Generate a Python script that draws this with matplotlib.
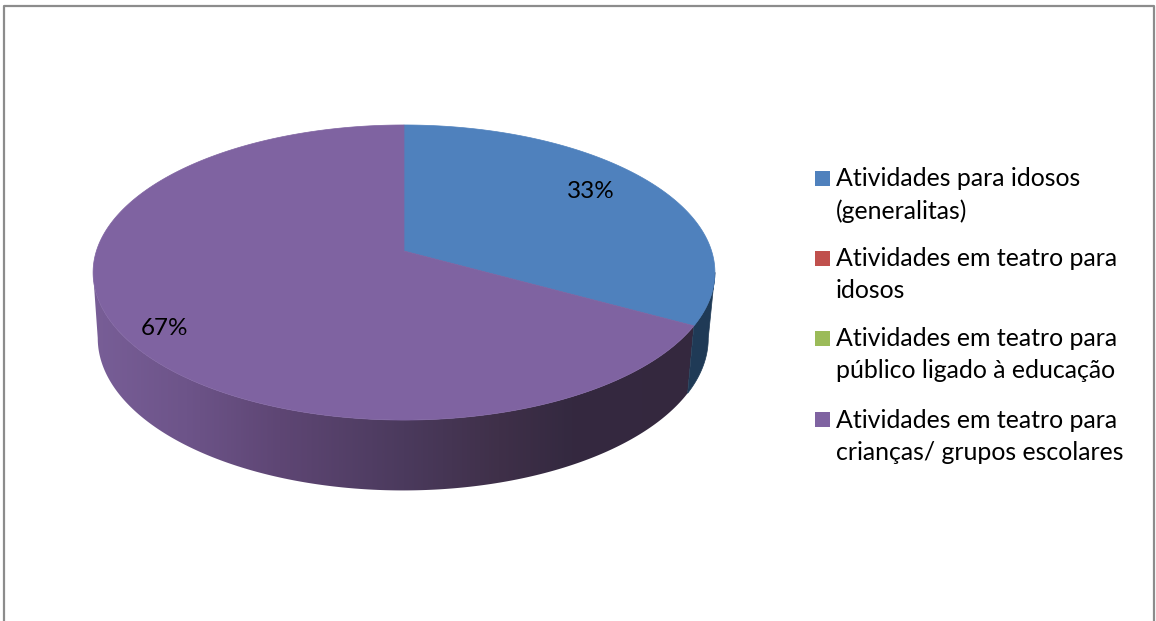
import numpy as np
import matplotlib
matplotlib.use('Agg')
import matplotlib.pyplot as plt
from matplotlib.colors import LinearSegmentedColormap
from matplotlib.patches import Polygon, Rectangle

labels = ['Atividades para idosos\n(generalitas)',
          'Atividades em teatro para\nidosos',
          'Atividades em teatro para\npúblico ligado à educação',
          'Atividades em teatro para\ncrianças/ grupos escolares']
values = [33, 0, 0, 67]
colors = ['#4f81bd', '#c0504d', '#9bbb59', '#7f63a1']
side_colors = ['#1f3a56', '#632523', '#4f6228', '#33283f']

plt.rcParams['font.family'] = ['Lato', 'DejaVu Sans']

fig = plt.figure(figsize=(11.56, 6.21), dpi=100)
ax = fig.add_axes([0, 0, 1, 1])
ax.set_xlim(0, 1156)
ax.set_ylim(621, 0)
ax.axis('off')

# chart border, no bottom edge in the crop
ax.plot([4, 4, 1154, 1154], [621, 6, 6, 621], color='#8c8c8c', lw=1.6)

K = -0.1458


def project(t, ax_, ay, sx, sy):
    # t is the angle clockwise from 12 o'clock, circle tilted with perspective
    x, y = np.sin(t), -np.cos(t)
    d = 1 + K * y
    return ax_ + sx * x / d, ay + sy * y / d


def top(t):
    return project(t, 404, 251, 307.6, 144.4)


def bottom(t):
    return project(t, 403, 316, 302.0, 149.0)


def band(t0, t1):
    t = np.linspace(t0, t1, 200)
    x0, y0 = top(t)
    x1, y1 = bottom(t)
    return np.r_[x0, x1[::-1]], np.r_[y0, y1[::-1]]


shares = np.array(values) / sum(values)
edges = np.r_[0, np.cumsum(shares)] * 2 * np.pi

tt = np.linspace(0, 2 * np.pi, 2000)
t_right = tt[np.argmax(top(tt)[0])]
t_left = 2 * np.pi - t_right

# side wall of the purple slice has a horizontal shade
shade = LinearSegmentedColormap.from_list('shade', [
    (0.00, '#785e97'), (0.15, '#6d5489'), (0.30, '#5e4674'), (0.50, '#4b3a5d'),
    (0.654, '#3f3049'), (0.77, '#342940'), (1.00, '#35283e')])
x_side, y_side = band(edges[3], t_left)
side = Polygon(np.c_[x_side, y_side], closed=True, fc='none', ec='none',
               transform=ax.transData)
ax.add_patch(side)
img = ax.imshow(np.linspace(0, 1, 512)[None, :], cmap=shade, aspect='auto',
                extent=[93, 715, 500, 200], zorder=1)
img.set_clip_path(side)

x_side, y_side = band(t_right, edges[1])
ax.add_patch(Polygon(np.c_[x_side, y_side], closed=True, fc=side_colors[0],
                     ec=side_colors[0], lw=0.5, zorder=1))

ax.set_xlim(0, 1156)
ax.set_ylim(621, 0)

# top face
for i, v in enumerate(values):
    if v == 0:
        continue
    t = np.linspace(edges[i], edges[i + 1], 400)
    x, y = top(t)
    pts = np.c_[np.r_[404, x], np.r_[251, y]]
    ax.add_patch(Polygon(pts, closed=True, fc=colors[i], ec=colors[i], lw=0.5,
                         zorder=2))

ax.text(591, 192, f'{values[0]}%', fontsize=17.5, ha='center', va='center',
        color='black', zorder=3)
ax.text(165, 328.5, f'{values[3]}%', fontsize=17.5, ha='center', va='center',
        color='black', zorder=3)

# legend
leg_y = [178, 258, 338, 419]
for label, color, y in zip(labels, colors, leg_y):
    ax.add_patch(Rectangle((815, y - 7.5), 15, 15, fc=color, ec='none', zorder=3))
    first, second = label.split('\n')
    ax.text(836, y + 1, first, fontsize=17.9, va='center', ha='left', color='black')
    ax.text(836, y + 33, second, fontsize=17.9, va='center', ha='left', color='black')

fig.savefig('out.png', dpi=100, facecolor='white')
